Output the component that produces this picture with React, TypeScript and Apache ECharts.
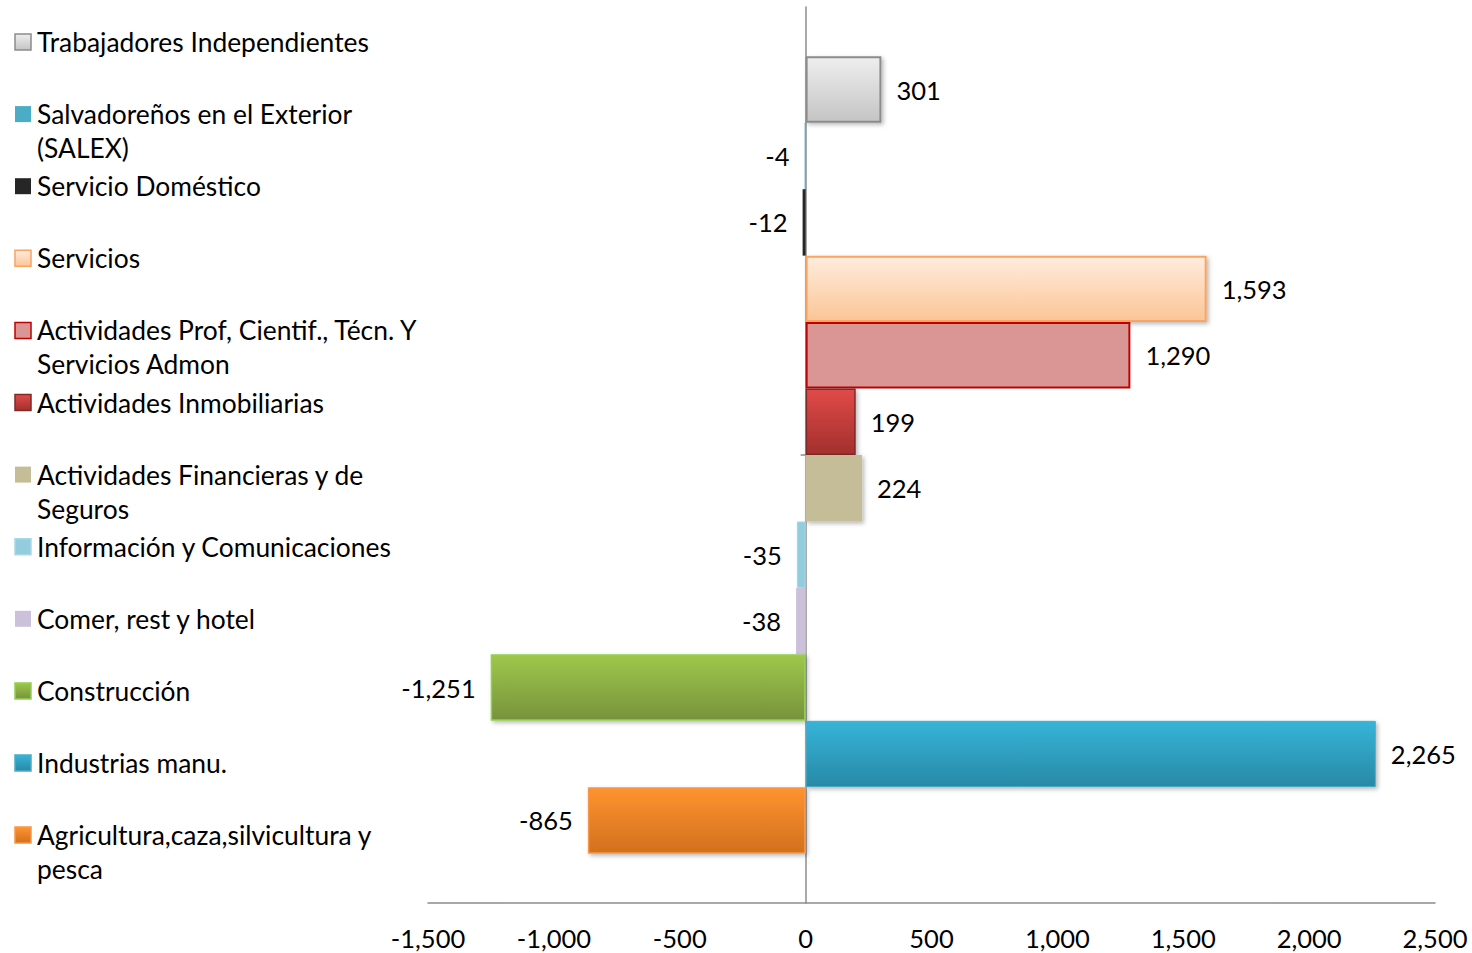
import React, { useEffect, useRef } from 'react';
import * as echarts from 'echarts';

// Series, top to bottom of the bar stack
const seriesNames = [
  'Trabajadores Independientes',
  'Salvadoreños en el Exterior (SALEX)',
  'Servicio Doméstico',
  'Servicios',
  'Actividades Prof, Cientif., Técn. Y Servicios Admon',
  'Actividades Inmobiliarias',
  'Actividades Financieras y de Seguros',
  'Información y Comunicaciones',
  'Comer, rest y hotel',
  'Construcción',
  'Industrias manu.',
  'Agricultura,caza,silvicultura y pesca',
];
const values = [301, -4, -12, 1593, 1290, 199, 224, -35, -38, -1251, 2265, -865];
// Legend text as wrapped in the original
const legendTexts = [
  'Trabajadores Independientes',
  'Salvadoreños en el Exterior\n(SALEX)',
  'Servicio Doméstico',
  'Servicios',
  'Actividades Prof, Cientif., Técn. Y\nServicios Admon',
  'Actividades Inmobiliarias',
  'Actividades Financieras y de\nSeguros',
  'Información y Comunicaciones',
  'Comer, rest y hotel',
  'Construcción',
  'Industrias manu.',
  'Agricultura,caza,silvicultura y\npesca',
];
const categories = [''];
const xMin = -1500;
const xMax = 2500;
const xInterval = 500;

const FONT = 'Lato, "Open Sans", sans-serif';

const grad = (top: string, bottom: string) =>
  new echarts.graphic.LinearGradient(0, 0, 0, 1, [
    { offset: 0, color: top },
    { offset: 1, color: bottom },
  ]);

type Sty = { fill: any; border?: string; bw?: number; shadow?: boolean };
const styles: Sty[] = [
  { fill: grad('#EEEEEE', '#C4C4C4'), border: '#8C8C8C', bw: 2, shadow: true },
  { fill: '#4BACC6' },
  { fill: '#262626' },
  { fill: grad('#FFECDE', '#FBC596'), border: '#F9A462', bw: 2, shadow: true },
  { fill: '#D99694', border: '#C00000', bw: 2 },
  { fill: grad('#E04A48', '#A3302D'), border: '#7F2A28', bw: 1.5, shadow: true },
  { fill: '#C4BD97', shadow: true },
  { fill: '#93CDDD', border: '#A9D8E6', bw: 1 },
  { fill: '#CCC1DA' },
  { fill: grad('#9FC74B', '#76933C'), border: '#92D050', bw: 1.5, shadow: true },
  { fill: grad('#36B4D8', '#2889A6'), border: '#4BACC6', bw: 1, shadow: true },
  { fill: grad('#FF932F', '#D2701E'), border: '#F79646', bw: 1.5, shadow: true },
];

const fmt = (v: number) => v.toLocaleString('en-US');

export default function App() {
  const ref = useRef<HTMLDivElement>(null);
  useEffect(() => {
    if (!ref.current) return;
    const chart = echarts.init(ref.current, null, { renderer: 'svg' });

    const series = seriesNames.map((name, i) => {
      const s = styles[i];
      const v = values[i];
      return {
        type: 'bar',
        name,
        data: [v],
        barGap: '0%',
        barCategoryGap: '11%',
        itemStyle: {
          color: s.fill,
          borderColor: s.border || 'transparent',
          borderWidth: s.bw || 0,
          shadowBlur: s.shadow ? 4 : 0,
          shadowOffsetX: s.shadow ? 2 : 0,
          shadowOffsetY: s.shadow ? 2 : 0,
          shadowColor: 'rgba(0,0,0,0.28)',
        },
        label: {
          show: true,
          position: v >= 0 ? 'right' : 'left',
          distance: 15,
          formatter: (p: any) => fmt(p.value),
          fontFamily: FONT,
          fontSize: 25.5,
          color: '#000',
        },
      };
    });

    const legendGraphics: any[] = [];
    const n = seriesNames.length;
    for (let i = 0; i < n; i++) {
      const cy = 42 + i * 72.1;
      const s = styles[i];
      legendGraphics.push({
        type: 'rect',
        shape: { x: 15, y: cy - 8, width: 16, height: 16 },
        style: {
          fill: s.fill,
          stroke: s.border || null,
          lineWidth: s.border ? 1.5 : 0,
        },
      });
      legendGraphics.push({
        type: 'text',
        x: 37,
        y: cy - 17,
        style: {
          text: legendTexts[i],
          font: `26.4px ${FONT}`,
          fill: '#000',
          lineHeight: 34,
          verticalAlign: 'top',
        },
      });
    }

    chart.setOption({
      animation: false,
      textStyle: { fontFamily: FONT },
      grid: { left: 428, right: 37, top: 7, bottom: 50, containLabel: false },
      xAxis: {
        type: 'value',
        min: xMin,
        max: xMax,
        interval: xInterval,
        splitLine: { show: false },
        axisTick: { show: false },
        axisLine: { show: true, lineStyle: { color: '#8C8C8C', width: 1.5 } },
        axisLabel: {
          formatter: (v: number) => fmt(v),
          fontFamily: FONT,
          fontSize: 25.5,
          color: '#000',
          margin: 22,
        },
      },
      yAxis: {
        type: 'category',
        data: categories,
        axisLine: { show: true, onZero: true, lineStyle: { color: '#8C8C8C', width: 1.5 } },
        axisTick: { show: true, alignWithLabel: true, length: 5, lineStyle: { color: '#8C8C8C', width: 1.5 } },
        axisLabel: { show: false },
        splitLine: { show: false },
      },
      series,
      graphic: legendGraphics,
    });
    return () => chart.dispose();
  }, []);
  return (
    <div
      ref={ref}
      style={{ position: 'absolute', left: 0, top: 0, width: 1472, height: 953 }}
    />
  );
}
